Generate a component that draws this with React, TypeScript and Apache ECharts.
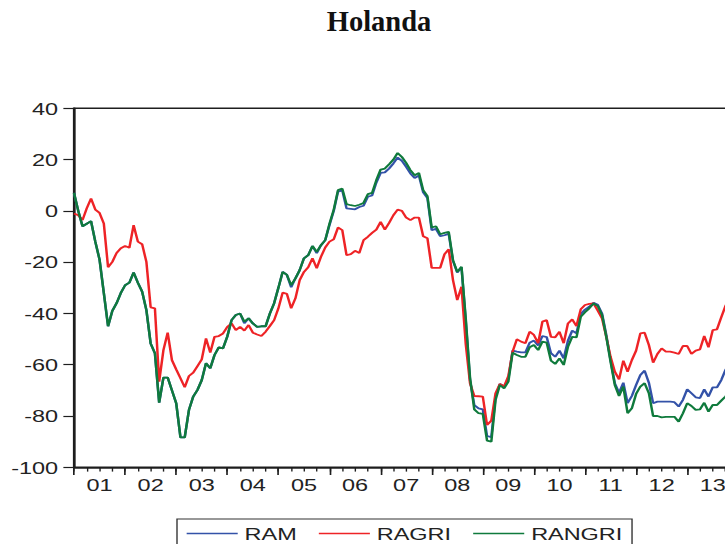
import React, { useEffect, useRef } from 'react';
import * as echarts from 'echarts';

// ---- data (monthly, 2001M01 .. 2013M12) ----
const yearLabels = ['01', '02', '03', '04', '05', '06', '07', '08', '09', '10', '11', '12', '13'];
const seriesNames = ['RAM', 'RAGRI', 'RANGRI'];
const yMin = -100;
const yMax = 40;
const yStep = 20;
const monthsTotal = 156;

const ramValues = [
  7, 0, -6, -5, -4, -12, -19, -32, -45, -39,
  -36, -32, -29, -28, -24, -28, -31.5, -38.7, -51.7, -55.5,
  -74.8, -65, -65, -70, -75, -88.3, -88.3, -77.6, -72.4, -69.8,
  -66, -59.4, -61.4, -56.2, -53.2, -53.6, -49, -42.6, -40.6, -40,
  -43.8, -41.9, -43.9, -45.2, -45, -45, -40, -36, -30, -23.8,
  -25, -29.8, -26.3, -23.1, -18.5, -17.3, -13.7, -16.5, -13.4, -11.4,
  -5.5, 0, 7.5, 8, 1, 0.8, 0.6, 1.5, 2, 5.5,
  6, 11, 14.8, 15, 16.5, 18.5, 20.8, 19.5, 17.2, 14.6,
  12.8, 13.8, 7.2, 5, -7.5, -7, -9.9, -9.5, -9, -19.5,
  -24, -22, -43, -66, -75.7, -77, -77.4, -87.8, -88.2, -72.5,
  -67.5, -68.5, -65.5, -54.5, -54.9, -55.2, -55.2, -51.4, -50.6, -52.5,
  -48.8, -49.2, -55.5, -56.9, -54.5, -57.5, -50.6, -46.7, -47.8, -40.2,
  -38.5, -37.4, -35.8, -36.6, -40, -48.4, -58.2, -67.2, -70.9, -67,
  -75, -72.2, -67.9, -64, -62.3, -67, -75, -74.4, -74.4, -74.4,
  -74.4, -74.6, -76.3, -73.7, -69.6, -71.1, -72.7, -73, -69.6, -72.4,
  -68.8, -68.8, -66, -62, -59, -57,
];

const ragriValues = [
  -1, -1.7, -3.6, 1, 4.8, 0.5, -0.8, -4.9, -22, -19.9,
  -16.4, -14.6, -13.7, -14.4, -5.6, -12, -13, -19.9, -37.6, -38,
  -66.6, -54.3, -47.5, -58.2, -61.8, -65.3, -68.8, -64.4, -63.1, -60.5,
  -57.9, -49.7, -55.3, -49.1, -48.8, -47.8, -45.2, -43.9, -46.5, -45.2,
  -46.7, -44.5, -47.5, -48.2, -48.8, -47.1, -44.9, -42.6, -38, -31.9,
  -32.4, -38, -34.1, -27, -23.8, -22, -18.5, -22.4, -17.9, -14.3,
  -12, -11.1, -6.5, -7.5, -17.3, -16.9, -15.6, -16.4, -11.4, -10.1,
  -8.6, -7.3, -4.3, -7.3, -4.7, -1.7, 0.5, 0, -2.6, -3.6,
  -2.6, -2.6, -9.9, -10.7, -22.2, -22.2, -22.2, -16.9, -15, -27,
  -34.8, -29.6, -52, -67.2, -72.2, -72.3, -72.4, -83.5, -81.8, -71.1,
  -67.5, -68.5, -64.4, -54.9, -50.1, -51, -51.6, -47.1, -48.4, -51.6,
  -43.2, -42.6, -49.1, -49.3, -47.1, -51.6, -43.9, -42.3, -44.9, -38.4,
  -36.7, -36.3, -36.1, -38.9, -41.9, -49.1, -56.9, -62.7, -65.7, -58.4,
  -62.7, -58.2, -54.5, -47.8, -47.5, -52.3, -59.2, -55.8, -53.6, -54.9,
  -54.9, -55.3, -55.8, -52.7, -52.7, -55.8, -54.5, -54, -48.8, -53.2,
  -46.5, -46.2, -41.5, -37, -34, -31,
];

const rangriValues = [
  7, 0, -6, -5, -4, -12, -19, -32, -45, -39,
  -36, -32, -29, -28, -24, -28, -31.5, -38.7, -51.7, -55.5,
  -74.8, -65, -65, -70, -75, -88.3, -88.3, -77.6, -72.4, -69.8,
  -66, -59.4, -61.4, -56.2, -53.2, -53.6, -49, -42.6, -40.6, -40,
  -43.2, -41.9, -43.9, -45.2, -45, -45, -40, -36, -30, -23.8,
  -25, -29, -26.3, -23.1, -18.5, -17.3, -13.7, -16, -13.4, -11.4,
  -5, 0.5, 8.1, 8.7, 2.6, 2.2, 1.9, 2.4, 3.1, 6.5,
  7, 12, 16.1, 16.5, 18.2, 20, 22.6, 21, 18.7, 15.9,
  13.9, 14.8, 8.1, 5.7, -6.5, -6, -9.1, -8.6, -8.2, -19.2,
  -23.8, -21.8, -42, -65, -77.4, -78.9, -79.2, -89.6, -90, -73.7,
  -67.9, -69.2, -66.6, -55.3, -56.2, -56.9, -56.9, -53.2, -52.3, -54.3,
  -51, -51.4, -58.4, -59.7, -57.5, -60.1, -53, -49.1, -49.3, -41.3,
  -39.5, -38, -36.1, -37.1, -40.6, -49.1, -58.8, -67.9, -72.2, -68.5,
  -78.9, -77, -71.4, -68.5, -67.2, -71.1, -80, -80, -80.5, -80.3,
  -80.3, -80.3, -82.2, -78.9, -75, -76.1, -77.6, -77.4, -74.8, -78.3,
  -75.7, -75.7, -74, -72.4, -70, -68,
];

// ---- layout (screen px); the graph is stretched horizontally by S ----
const S = 1.38;
const W = 725;
const H = 544;
const INNER_W = 760 / S;
const FONT = '"Liberation Sans", Arial, sans-serif';

const toPairs = (arr: number[]) => arr.map((v, i) => [i, v]);

export default function App() {
  const ref = useRef<HTMLDivElement>(null);

  useEffect(() => {
    if (!ref.current) return;
    const chart = echarts.init(ref.current, undefined, {
      renderer: 'svg',
      width: INNER_W,
      height: H,
    });

    const axisColor = '#1e1e1e';
    const gridLeft = 74 / S;
    const gridWidth = (13 * 51.1) / S;
    const colors = ['#3352a8', '#ee2326', '#0f7a3c'];
    const valueLists = [ramValues, ragriValues, rangriValues];

    chart.setOption({
      animation: false,
      backgroundColor: '#ffffff',
      graphic: [
        {
          type: 'text',
          x: 379 / S,
          y: 22,
          scaleX: 1 / S,
          style: {
            text: 'Holanda',
            fontFamily: '"Liberation Serif", "Times New Roman", serif',
            fontWeight: 'bold',
            fontSize: 28.5,
            fill: '#111',
            align: 'center',
            verticalAlign: 'middle',
          },
        },
      ],
      grid: {
        left: gridLeft,
        top: 108.3,
        width: gridWidth,
        height: 359,
        show: true,
        borderColor: axisColor,
        borderWidth: 1.6,
        backgroundColor: 'transparent',
      },
      legend: {
        data: seriesNames.map((name) => ({ name, icon: 'rect' })),
        left: 177 / S,
        top: 519,
        orient: 'horizontal',
        padding: [6, 7, 8, 7],
        itemWidth: 37,
        itemHeight: 1.4,
        itemGap: 16,
        borderColor: '#333',
        borderWidth: 1,
        textStyle: { fontFamily: FONT, fontSize: 17, color: '#222', lineHeight: 17 },
      },
      xAxis: [
        {
          type: 'category',
          data: yearLabels,
          position: 'bottom',
          boundaryGap: true,
          axisLine: { show: true, onZero: false, lineStyle: { color: axisColor, width: 1.6 } },
          axisTick: { show: true, length: 7.7, interval: 0, lineStyle: { color: axisColor, width: 1.2 } },
          axisLabel: { show: true, interval: 0, margin: 9, fontFamily: FONT, fontSize: 17, color: '#222' },
          splitLine: { show: false },
        },
        {
          type: 'value',
          position: 'bottom',
          min: 0,
          max: monthsTotal,
          interval: 3,
          axisLine: { show: false, onZero: false },
          axisTick: { show: true, length: 4.3, lineStyle: { color: axisColor, width: 1 } },
          axisLabel: { show: false },
          splitLine: { show: false },
        },
      ],
      yAxis: {
        type: 'value',
        min: yMin,
        max: yMax,
        interval: yStep,
        axisLine: { show: true, onZero: false, lineStyle: { color: axisColor, width: 1.6 } },
        axisTick: { show: true, length: 7.7, lineStyle: { color: axisColor, width: 1.2 } },
        axisLabel: { margin: 11.5, fontFamily: FONT, fontSize: 17, color: '#222' },
        splitLine: { show: false },
      },
      series: seriesNames.map((name, k) => ({
        name,
        type: 'line',
        xAxisIndex: 1,
        data: toPairs(valueLists[k]),
        symbol: 'none',
        showSymbol: false,
        color: colors[k],
        itemStyle: { color: colors[k] },
        lineStyle: { width: 1.8, color: colors[k] },
        z: 2 + k,
      })),
    });

    return () => chart.dispose();
  }, []);

  return (
    <div
      style={{
        position: 'absolute',
        left: 0,
        top: 0,
        width: W,
        height: H,
        overflow: 'hidden',
        background: '#fff',
      }}
    >
      <div
        ref={ref}
        style={{
          width: INNER_W,
          height: H,
          transform: `scaleX(${S})`,
          transformOrigin: '0 0',
        }}
      />
    </div>
  );
}
